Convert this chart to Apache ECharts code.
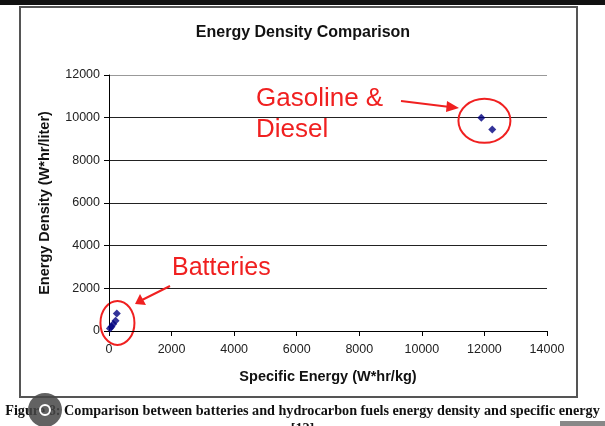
<!DOCTYPE html>
<html>
<head>
<meta charset="utf-8">
<script src="https://cdn.jsdelivr.net/npm/echarts@6/dist/echarts.min.js"></script>
<style>
  html, body { margin: 0; padding: 0; background: #fff; }
  #chart { width: 605px; height: 426px; }
</style>
</head>
<body>
<div id="chart"></div>
<script>
// values
const batteryEnergy = [30, 80, 135, 210, 250]
const batteryDensity = [120, 200, 330, 480, 820]
const fuelEnergy = [11900, 12250]
const fuelDensity = [10000, 9450]

const xTicks = [0, 2000, 4000, 6000, 8000, 10000, 12000, 14000]
const yTicks = [0, 2000, 4000, 6000, 8000, 10000, 12000]

const points = batteryEnergy.map((v, i) => [v, batteryDensity[i]])
    .concat(fuelEnergy.map((v, i) => [v, fuelDensity[i]]))

const chart = echarts.init(document.getElementById('chart'), null, {renderer: 'canvas'})
const red = '#f02020'
const labelFont = '"Liberation Sans", Arial, sans-serif'

chart.setOption({
    backgroundColor: '#fff',
    animation: false,
    title: {
        text: 'Energy Density Comparison',
        left: 298,
        top: 20,
        textAlign: 'center',
        textStyle: {fontFamily: labelFont, fontSize: 16, fontWeight: 'bold', color: '#111'}
    },
    grid: {left: 109, right: 58, top: 75, bottom: 95},
    xAxis: {
        type: 'value',
        min: xTicks[0],
        max: xTicks[xTicks.length - 1],
        interval: 2000,
        name: 'Specific Energy (W*hr/kg)',
        nameLocation: 'middle',
        nameGap: 38,
        nameTextStyle: {fontFamily: labelFont, fontSize: 14.5, fontWeight: 'bold', color: '#111'},
        axisLine: {lineStyle: {color: '#000', width: 1}},
        axisTick: {show: true, length: 5, lineStyle: {color: '#000'}},
        axisLabel: {fontFamily: labelFont, fontSize: 12.5, color: '#222', margin: 12, formatter: v => String(v)},
        splitLine: {show: false}
    },
    yAxis: {
        type: 'value',
        min: yTicks[0],
        max: yTicks[yTicks.length - 1],
        interval: 2000,
        name: 'Energy Density (W*hr/liter)',
        nameLocation: 'middle',
        nameGap: 57,
        nameTextStyle: {fontFamily: labelFont, fontSize: 14.5, fontWeight: 'bold', color: '#111'},
        axisLine: {show: true, lineStyle: {color: '#000', width: 1}},
        axisTick: {show: true, length: 5, lineStyle: {color: '#000'}},
        axisLabel: {fontFamily: labelFont, fontSize: 12.5, color: '#222', margin: 9, formatter: v => String(v)},
        splitLine: {show: true, lineStyle: {color: ['#222', '#222', '#222', '#222', '#222', '#222', '#999'], width: 1}}
    },
    series: [{
        type: 'scatter',
        symbol: 'diamond',
        symbolSize: 8,
        itemStyle: {color: '#000080'},
        data: points
    }]
})

// annotations, anchored to the data where they circle points
const c1 = chart.convertToPixel({gridIndex: 0}, [12000, 9850])
const c2 = chart.convertToPixel({gridIndex: 0}, [270, 380])

chart.setOption({
    graphic: [
        {type: 'rect', shape: {x: 0, y: 0, width: 605, height: 5}, style: {fill: '#111'}, silent: true},
        {type: 'rect', shape: {x: 20, y: 7, width: 557, height: 390}, style: {fill: null, stroke: '#555', lineWidth: 2}, z: -1, silent: true},
        {type: 'ellipse', shape: {cx: c1[0], cy: c1[1], rx: 26, ry: 22}, style: {fill: null, stroke: red, lineWidth: 2}},
        {type: 'ellipse', shape: {cx: c2[0], cy: c2[1], rx: 17, ry: 22}, style: {fill: null, stroke: red, lineWidth: 2}},
        {type: 'text', left: 256, top: 86, style: {text: 'Gasoline &', font: '26px ' + labelFont, fill: red}},
        {type: 'text', left: 256, top: 117, style: {text: 'Diesel', font: '26px ' + labelFont, fill: red}},
        {type: 'text', left: 172, top: 256, style: {text: 'Batteries', font: '25px ' + labelFont, fill: red}},
        {type: 'line', shape: {x1: 401, y1: 101, x2: 450, y2: 107}, style: {stroke: red, lineWidth: 2}},
        {type: 'polygon', shape: {points: [[459, 108], [447, 101], [446, 112]]}, style: {fill: red}},
        {type: 'line', shape: {x1: 170, y1: 286, x2: 142, y2: 300}, style: {stroke: red, lineWidth: 2}},
        {type: 'polygon', shape: {points: [[135, 304], [140, 294], [146, 305]]}, style: {fill: red}},
        {type: 'text', left: 'center', top: 404, style: {
            text: 'Figure 8: Comparison between batteries and hydrocarbon fuels energy density and specific energy',
            font: 'bold 14.2px "Liberation Serif", "Times New Roman", serif', fill: '#111'}},
        {type: 'text', left: 'center', top: 422, style: {text: '[12]', font: 'bold 14.2px "Liberation Serif", serif', fill: '#111'}},
        {type: 'rect', shape: {x: 560, y: 421, width: 45, height: 5}, style: {fill: '#888'}, silent: true},
        {type: 'circle', shape: {cx: 45, cy: 410, r: 17}, style: {fill: 'rgba(70,70,70,0.85)'}, z: 10},
        {type: 'circle', shape: {cx: 45, cy: 410, r: 5}, style: {fill: null, stroke: '#fff', lineWidth: 2}, z: 11}
    ]
})
</script>
</body>
</html>
